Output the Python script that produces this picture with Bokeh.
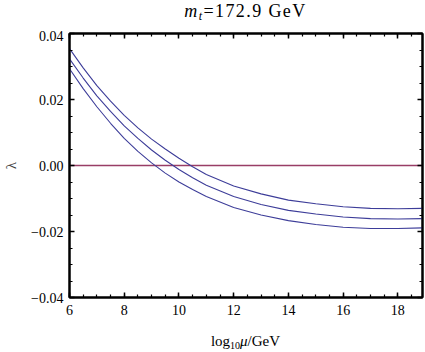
from bokeh.plotting import figure
from bokeh.layouts import column
from bokeh.models import Range1d, LinearAxis, FixedTicker, CustomJSTickFormatter, Div
from bokeh.embed import file_html
from bokeh.resources import INLINE

# ---- data ----
log_mu = [6, 6.5, 7, 7.5, 8, 8.5, 9, 9.5, 10, 10.5, 11, 12, 13, 14, 15, 16, 17, 18, 18.9]
lam_upper = [0.0354, 0.0296, 0.0242, 0.0195, 0.0152, 0.0114, 0.0080, 0.0050, 0.0022, -0.0004,
             -0.0027, -0.0062, -0.0086, -0.0105, -0.0116, -0.0125, -0.0130, -0.0131, -0.0130]
lam_central = [0.0323, 0.0265, 0.0211, 0.0164, 0.0120, 0.0082, 0.0047, 0.0016, -0.0012, -0.0037,
               -0.0060, -0.0094, -0.0118, -0.0136, -0.0147, -0.0156, -0.0161, -0.0162, -0.0161]
lam_lower = [0.0293, 0.0233, 0.0178, 0.0128, 0.0082, 0.0043, 0.0008, -0.0023, -0.0050, -0.0073,
             -0.0094, -0.0127, -0.0150, -0.0167, -0.0179, -0.0187, -0.0191, -0.0191, -0.0189]
zero_x = [6, 18.9]
zero_y = [0.0, 0.0]

x_ticks = [6, 8, 10, 12, 14, 16, 18]
x_minor = [6 + 0.5 * i for i in range(27)]
y_ticks = [-0.04, -0.02, 0.0, 0.02, 0.04]
y_tick_labels = ["\u22120.04", "\u22120.02", "0.00", "0.02", "0.04"]
y_minor = [round(-0.04 + 0.005 * i, 3) for i in range(17)]

title_parts = ("m", "t", "=172.9 GeV")
xlabel_parts = ("log", "10", "\u03bc", "/GeV")

HTML_FONT = "'Liberation Serif', Times, serif"
SVG_FONT = "Times"
BLUE = "#3d3d99"
RED = "#993d66"

title_html = (
    "<div style=\"width:353px;text-align:center;font-family:" + HTML_FONT.replace('"', "") +
    ";font-size:18px;line-height:20px;letter-spacing:1.4px;color:#000;padding-top:1px\">"
    "<i>" + title_parts[0] + "</i>"
    "<span style=\"font-size:12px;position:relative;top:3px\"><i>" + title_parts[1] + "</i></span>"
    + title_parts[2] + "</div>")
xlabel_html = (
    "<div style=\"width:353px;text-align:center;font-family:" + HTML_FONT +
    ";font-size:15px;line-height:18px;color:#000;padding-top:8px\">"
    + xlabel_parts[0] +
    "<span style=\"font-size:10px;position:relative;top:3px\">" + xlabel_parts[1] + "</span>"
    "<i>" + xlabel_parts[2] + "</i>" + xlabel_parts[3] + "</div>")

p = figure(width=424, height=294, x_range=Range1d(6, 18.9), y_range=Range1d(-0.04, 0.04),
           output_backend="svg", toolbar_location=None,
           min_border_left=69, min_border_right=2, min_border_top=3, min_border_bottom=27)
p.grid.visible = False
p.outline_line_color = "black"
p.outline_line_width = 2
p.background_fill_color = "white"
p.border_fill_color = "white"

xt = FixedTicker(ticks=x_ticks, minor_ticks=x_minor)
yt = FixedTicker(ticks=y_ticks, minor_ticks=y_minor)
blank = CustomJSTickFormatter(code="return ''")

def style(ax, show_labels):
    ax.axis_line_width = 2
    ax.axis_line_color = "black"
    ax.major_tick_in = 5
    ax.major_tick_out = 0
    ax.minor_tick_in = 3
    ax.minor_tick_out = 0
    ax.major_tick_line_width = 1.5
    ax.minor_tick_line_width = 1.2
    ax.major_tick_line_color = "black"
    ax.minor_tick_line_color = "black"
    ax.major_label_text_font = SVG_FONT
    ax.major_label_text_color = "black"
    ax.major_label_text_font_size = "14px"
    if show_labels:
        ax.major_label_standoff = 6
    else:
        ax.formatter = blank
        ax.major_label_standoff = 0

xb = p.xaxis[0]
xb.ticker = xt
style(xb, True)
xb.major_label_standoff = 7

yl = p.yaxis[0]
yl.ticker = yt
style(yl, True)
yl.major_label_overrides = {t: s for t, s in zip(y_ticks, y_tick_labels)}
yl.axis_label = "\u03bb"
yl.axis_label_text_font = SVG_FONT
yl.axis_label_text_font_style = "normal"
yl.axis_label_text_font_size = "15px"
yl.axis_label_standoff = 9

xa = LinearAxis(ticker=xt)
style(xa, False)
p.add_layout(xa, "above")
yr = LinearAxis(ticker=yt)
style(yr, False)
p.add_layout(yr, "right")

p.line(zero_x, zero_y, line_color=RED, line_width=1.3)
p.line(log_mu, lam_upper, line_color=BLUE, line_width=1.1)
p.line(log_mu, lam_central, line_color=BLUE, line_width=1.1)
p.line(log_mu, lam_lower, line_color=BLUE, line_width=1.1)

title_div = Div(text=title_html, width=353, height=30, margin=(0, 0, 0, 69))
xlabel_div = Div(text=xlabel_html, width=353, height=26, margin=(0, 0, 0, 69))

layout = column(title_div, p, xlabel_div, spacing=0)

open("out.html", "w").write(file_html(layout, INLINE))
